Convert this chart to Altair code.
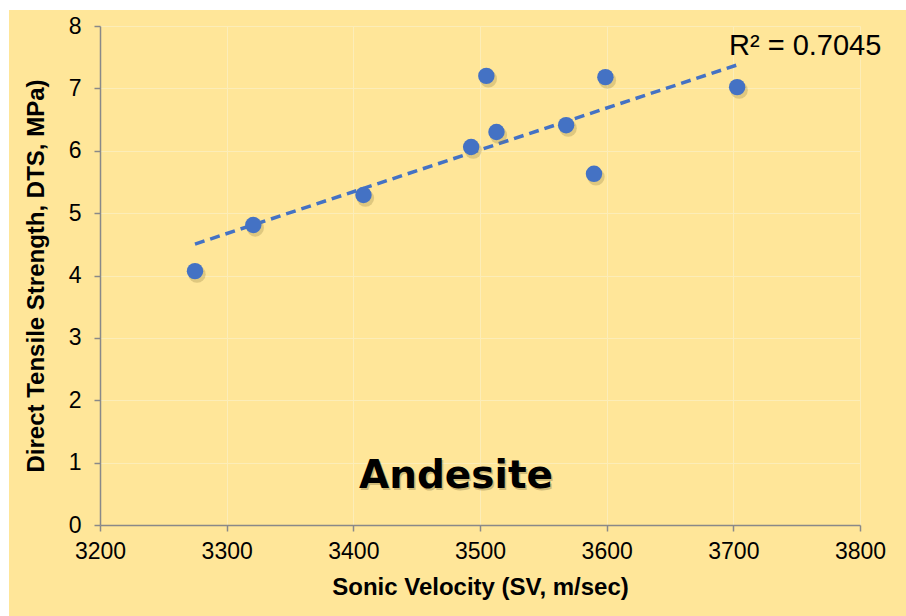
import altair as alt
import pandas as pd

# Data
sonic_velocity = [3275, 3321, 3408, 3493, 3505, 3513, 3568, 3590, 3599, 3703]
dts = [4.07, 4.81, 5.29, 6.06, 7.20, 6.30, 6.41, 5.63, 7.18, 7.02]
x_ticks = [3200, 3300, 3400, 3500, 3600, 3700, 3800]
y_ticks = [0, 1, 2, 3, 4, 5, 6, 7, 8]
r2_label = "R² = 0.7045"
rock_label = "Andesite"

df = pd.DataFrame({"SV": sonic_velocity, "DTS": dts})

BG = "#FFE699"
BLUE = "#4472C4"
FONT = "Liberation Sans"

x_enc = alt.X(
    "SV:Q",
    scale=alt.Scale(domain=[3200, 3800], nice=False),
    axis=alt.Axis(
        values=x_ticks, title="Sonic Velocity (SV, m/sec)", format="d",
        labelFontSize=23, titleFontSize=24, titleFontWeight="bold",
        labelPadding=9, titlePadding=12, labelFlush=False,
    ),
)
y_enc = alt.Y(
    "DTS:Q",
    scale=alt.Scale(domain=[0, 8], nice=False),
    axis=alt.Axis(
        values=y_ticks, title="Direct Tensile Strength, DTS, MPa)", format="d",
        labelFontSize=23, titleFontSize=24, titleFontWeight="bold",
        labelPadding=13, titlePadding=20, labelFlush=False,
    ),
)

base = alt.Chart(df)

shadow = base.mark_circle(size=300, color="#8C7A3C", opacity=0.28, xOffset=2, yOffset=3).encode(x=x_enc, y=y_enc)
points = base.mark_circle(size=270, color=BLUE, opacity=1).encode(x=x_enc, y=y_enc)

trend = base.transform_regression("SV", "DTS").mark_line(
    color=BLUE, strokeWidth=3.5, strokeDash=[10, 6]
).encode(x="SV:Q", y="DTS:Q")

one = alt.Data(values=[{}])

r2 = alt.Chart(one).mark_text(
    text=r2_label, font=FONT, fontSize=29, align="left", baseline="middle", color="#000000"
).encode(x=alt.value(629), y=alt.value(20))

rock_shadow = alt.Chart(one).mark_text(
    text=rock_label, font="DejaVu Sans", fontWeight="bold", fontSize=39,
    align="center", baseline="middle", color="#6f6130", opacity=0.32
).encode(x=alt.value(357.5), y=alt.value(452))

rock = alt.Chart(one).mark_text(
    text=rock_label, font="DejaVu Sans", fontWeight="bold", fontSize=39,
    align="center", baseline="middle", color="#000000"
).encode(x=alt.value(356), y=alt.value(449.5))

white_top = alt.Chart(one).mark_rect(color="white").encode(
    x=alt.value(-100), x2=alt.value(806), y=alt.value(-26), y2=alt.value(-16)
)
white_left = alt.Chart(one).mark_rect(color="white").encode(
    x=alt.value(-100), x2=alt.value(-91), y=alt.value(-26), y2=alt.value(590)
)

chart = alt.layer(
    trend, shadow, points, r2, rock_shadow, rock, white_top, white_left
).properties(
    width=760, height=499,
    autosize=alt.AutoSizeParams(type="none"),
    padding={"left": 100, "top": 26, "right": 46, "bottom": 91},
    background=BG,
).configure_view(
    stroke=None
).configure_axis(
    domainColor="#898989", domainWidth=1.5,
    tickColor="#898989", tickWidth=1.5, tickSize=6,
    gridColor="#FCEDB8", gridWidth=1,
    labelColor="#000000", titleColor="#000000",
    labelFont=FONT, titleFont=FONT,
)

chart.save("out.html", embed_options={"renderer": "svg", "actions": False})
